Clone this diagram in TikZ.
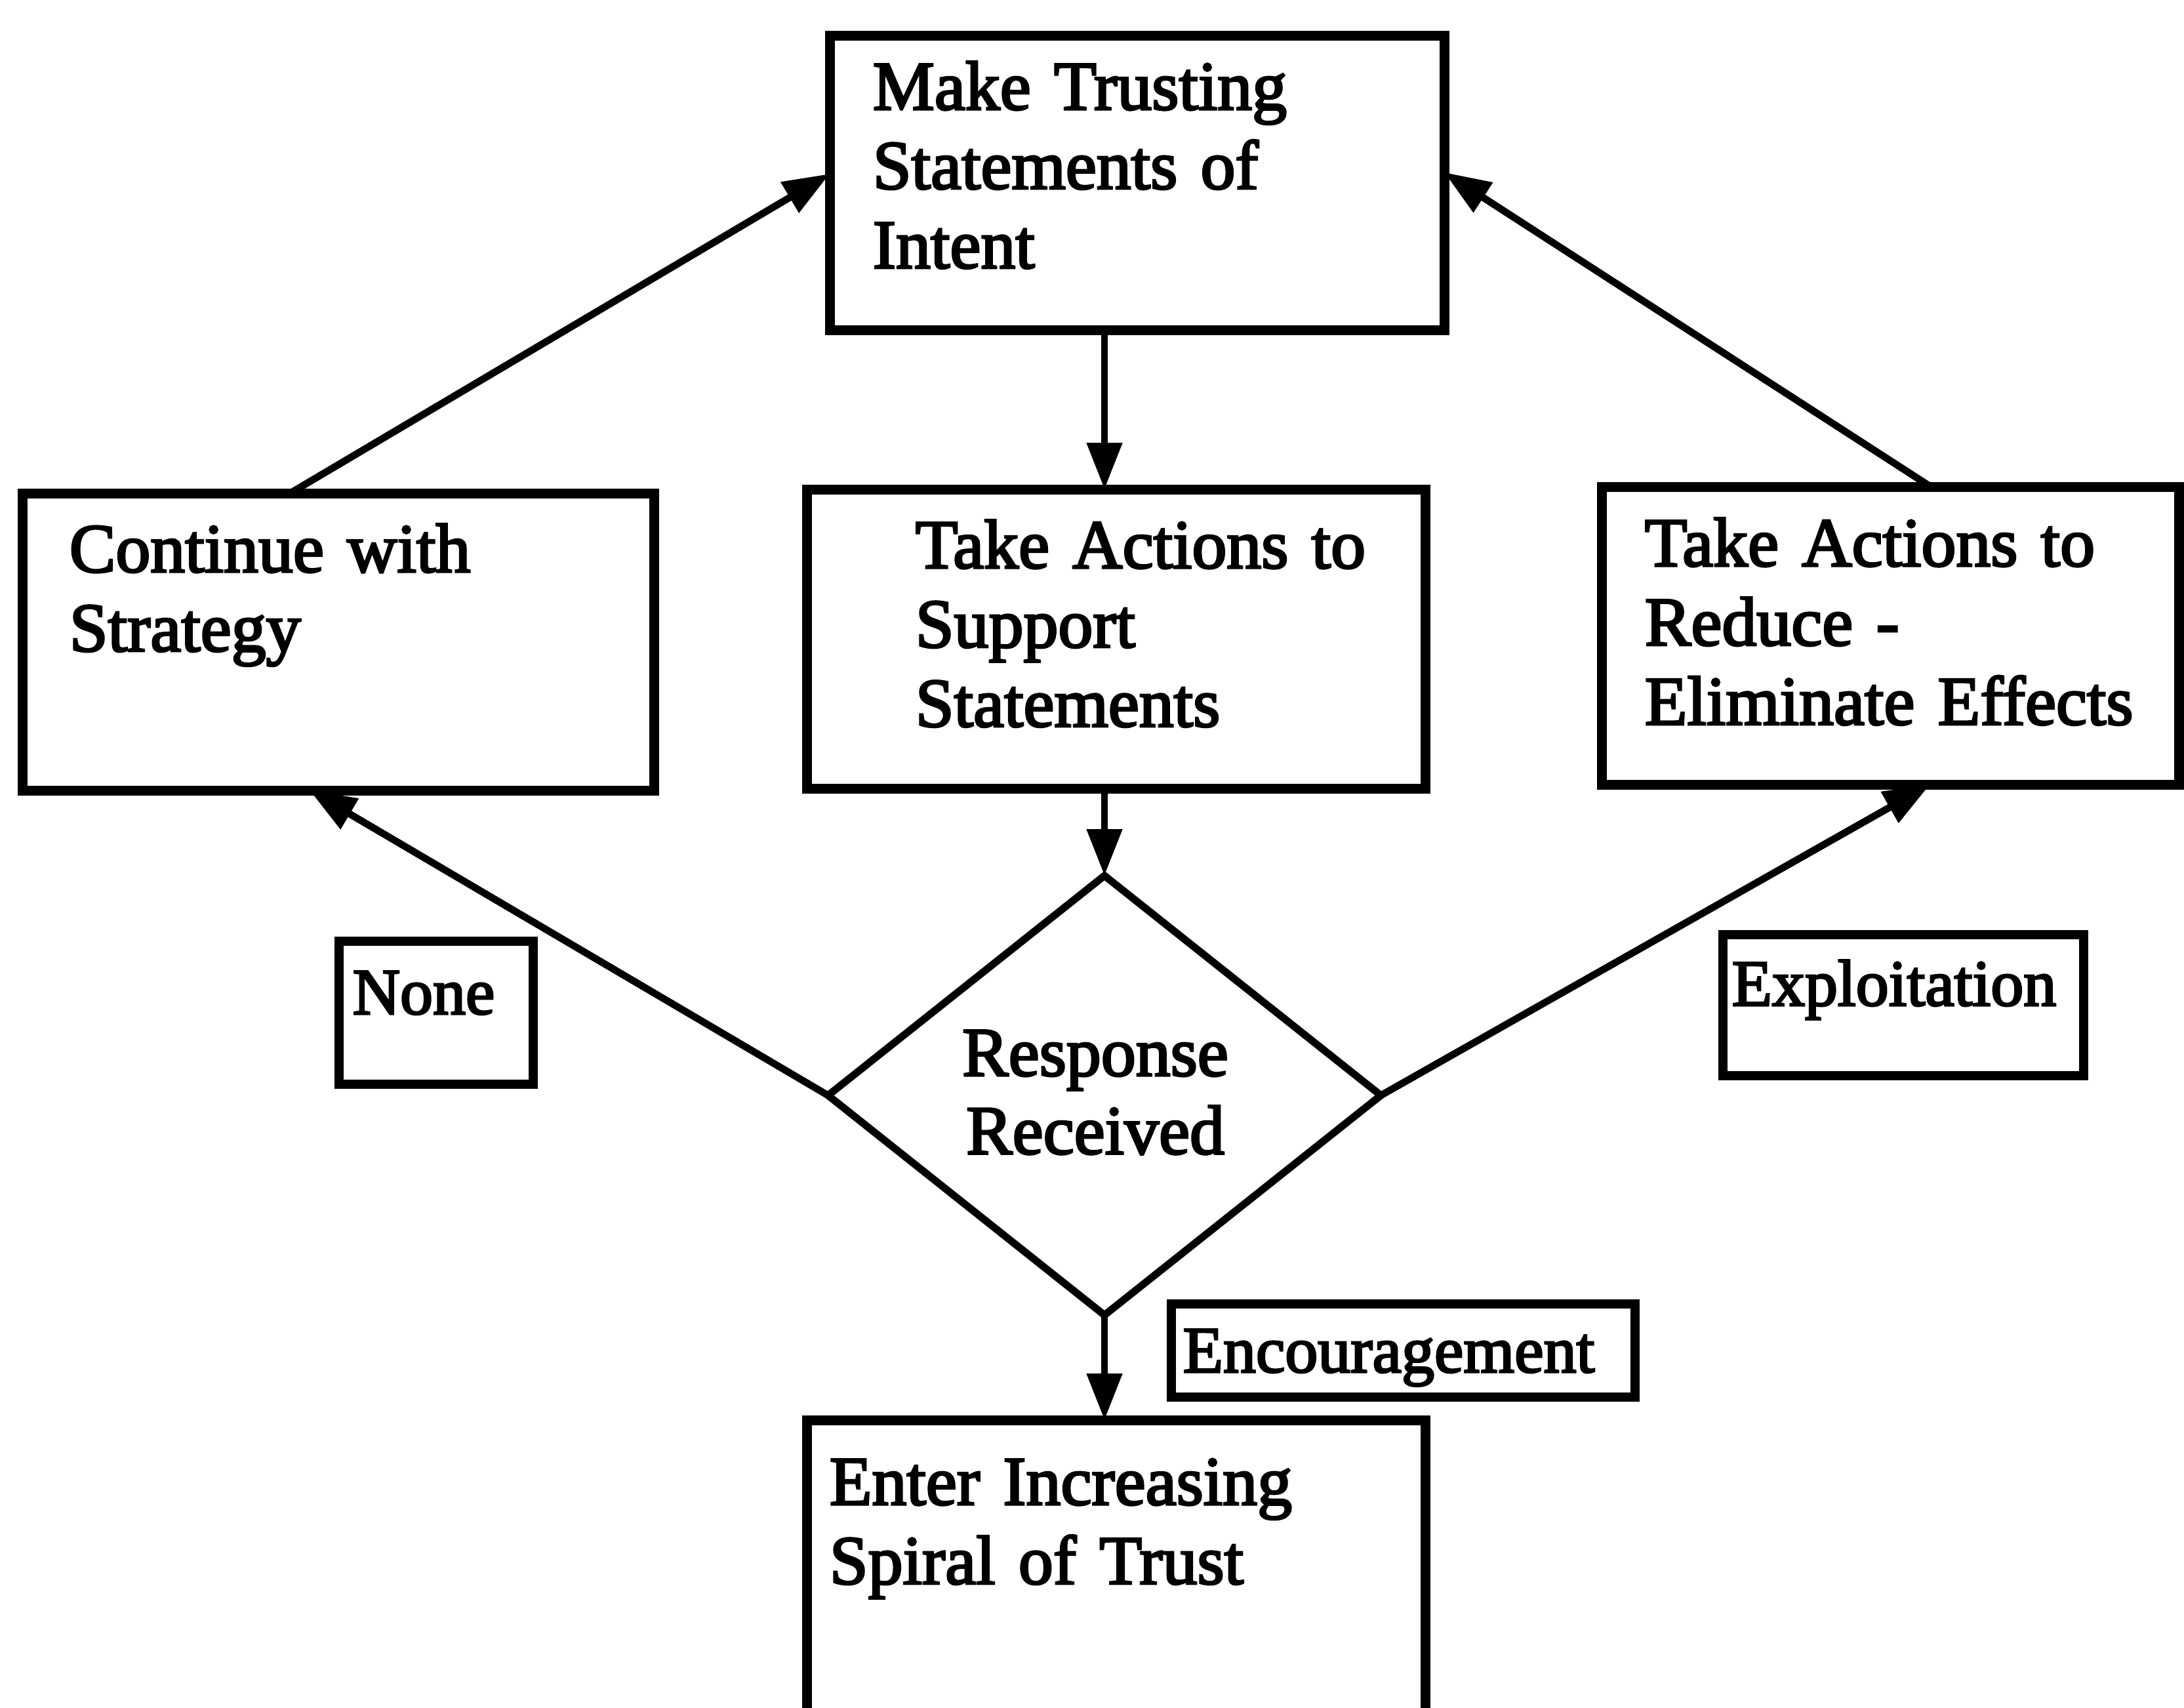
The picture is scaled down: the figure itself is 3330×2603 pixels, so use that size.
\documentclass[tikz,border=0pt]{standalone}
\usepackage{fontspec}
\setmainfont{Liberation Serif}[BoldFont={Liberation Serif}, BoldFeatures={FakeBold=3}]
\usetikzlibrary{arrows.meta,shapes.geometric,fit,calc}

\begin{document}
\begin{tikzpicture}[x=0.24pt,y=-0.24pt,
  box/.style={draw, line width=3.6pt, inner sep=0pt, outer sep=0pt},
  frame/.style={line width=3.6pt},
  tag/.style={draw, line width=3.2pt, inner sep=0pt, outer sep=0pt},
  decision/.style={draw, diamond, line width=2.7pt, inner sep=0pt, outer sep=0pt,
    minimum width=202.3pt, minimum height=160.8pt},
  txt/.style={anchor=base west, inner sep=0pt, text width=250pt, align=left,
    font=\bfseries\fontsize{25.4}{29}\selectfont},
  mid/.style={anchor=base, inner sep=0pt, text width=150pt, align=center,
    font=\bfseries\fontsize{25.4}{28.6}\selectfont},
  lbl/.style={anchor=base west, inner sep=0pt, font=\bfseries\fontsize{24}{28}\selectfont},
  conn/.style={line width=2.6pt, -{Triangle[length=17pt,width=12.5pt]}}]

\useasboundingbox (0,0) rectangle (3330,2603);

% process boxes
\node[box, fit={(1265,54) (2202,503)}] (top) {};
\node[box, fit={(34,752) (997,1205)}] (cont) {};
\node[box, fit={(1230,746) (2173,1202)}] (supp) {};
\node[box, fit={(2442,742) (3322,1196)}] (red) {};
\node[inner sep=0pt, outer sep=0pt, fit={(1230,2165) (2173,2615)}] (spiral) {};
\draw[frame] (spiral.south west) -- (spiral.north west) -- (spiral.north east) -- (spiral.south east);

% box texts
\node[txt] (topT) at (1330,167) {Make Trusting\\Statements of\\Intent};
\node[txt] (contT) at (105,872) {Continue with\\Strategy};
\node[txt] (suppT) at (1395,866) {Take Actions to\\Support\\Statements};
\node[txt] (redT) at (2507,863) {Take Actions to\\Reduce -\\Eliminate Effects};
\node[txt] (spiralT) at (1264,2294) {Enter Increasing\\Spiral of Trust};

% decision
\node[decision] (dia) at (1684,1670) {};
\node[mid] (diaT) at (1670,1640) {Response\\Received};

% outcome tags
\node[tag, fit={(517,1435) (813,1653)}] (none) {};
\node[lbl] (noneT) at (537,1546) {None};
\node[tag, fit={(2627,1425) (3177,1640)}] (expl) {};
\node[lbl] (explT) at (2640,1533) {Exploitation};
\node[tag, fit={(1786,1988) (2493,2130)}] (enc) {};
\node[lbl] (encT) at (1803,2092) {Encouragement};

% connectors
\draw[conn] (top.south -| dia.north) -- (supp.north -| dia.north);
\draw[conn] (supp.south -| dia.north) -- (dia.north);
\draw[conn] (dia.south) -- (spiral.north -| dia.south);
\draw[conn] (dia.west) -- ($(cont.south west)!0.455!(cont.south east)$);
\draw[conn] (dia.east) -- ($(red.south west)!0.569!(red.south east)$);
\draw[conn] ($(cont.north west)!0.424!(cont.north east)$) -- ($(top.north west)!0.47!(top.south west)$);
\draw[conn] ($(red.north west)!0.57!(red.north east)$) -- ($(top.north east)!0.465!(top.south east)$);
\end{tikzpicture}
\end{document}
